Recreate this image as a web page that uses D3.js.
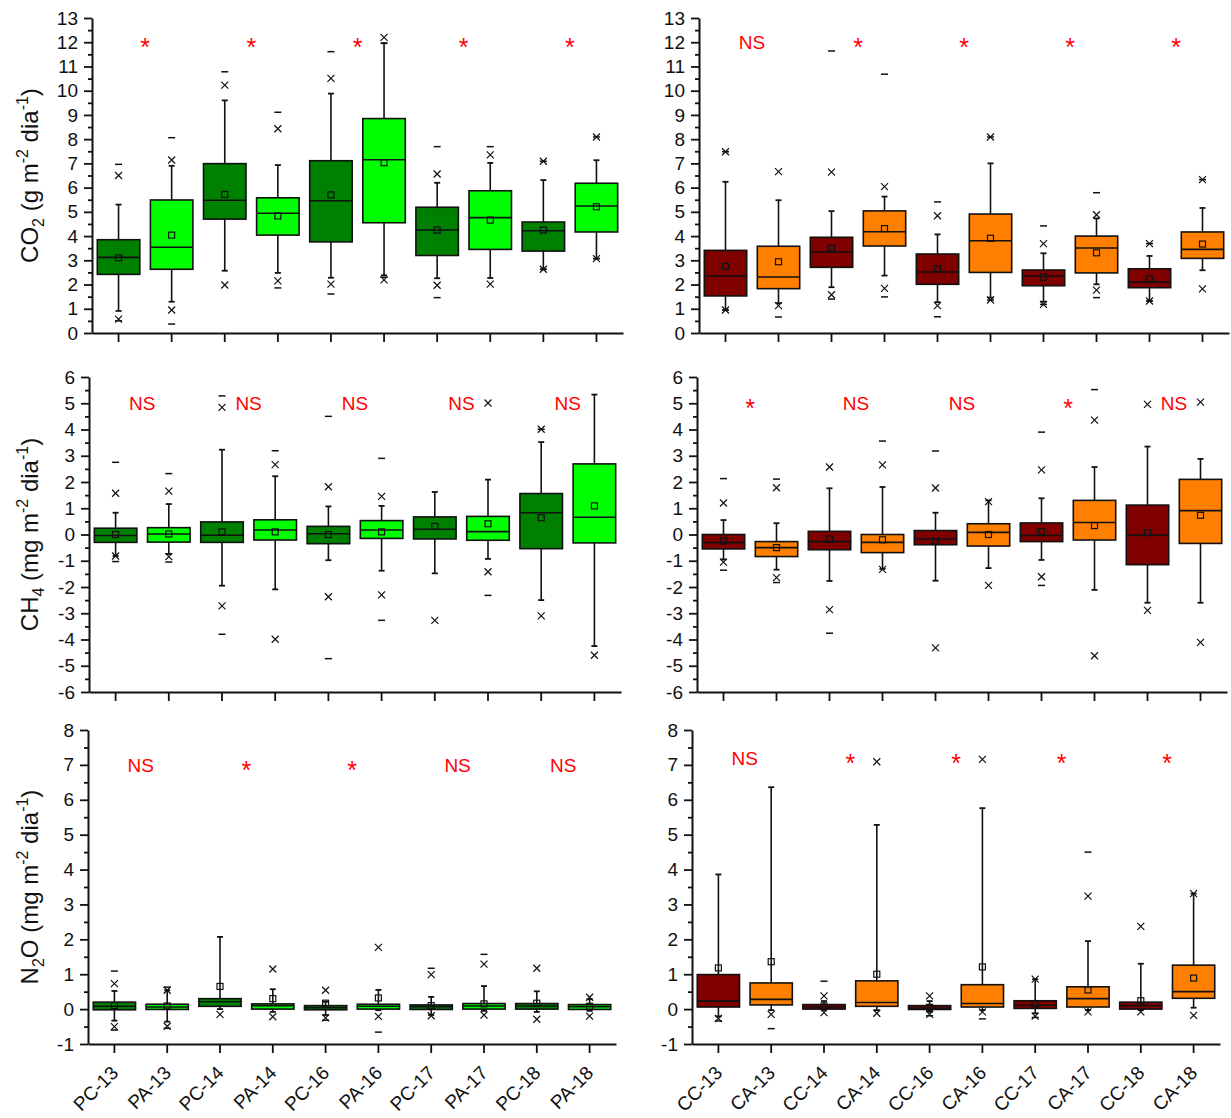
<!DOCTYPE html>
<html>
<head>
<meta charset="utf-8">
<script src="https://cdn.jsdelivr.net/npm/d3@7"></script>
<style>
  body { margin: 0; background: #fff; }
  text { font-family: "Liberation Sans", Arial, sans-serif; }
</style>
</head>
<body>
<svg id="chart" width="1231" height="1118"></svg>
<script>
const catsP = ["PC-13", "PA-13", "PC-14", "PA-14", "PC-16", "PA-16", "PC-17", "PA-17", "PC-18", "PA-18"];
const catsC = ["CC-13", "CA-13", "CC-14", "CA-14", "CC-16", "CA-16", "CC-17", "CA-17", "CC-18", "CA-18"];

// each row: [min, p1, whiskerLow, q1, median, q3, whiskerHigh, p99, max, mean]  (null = not drawn)
const co2P = [
  [0.5, 0.57, 0.91, 2.42, 3.12, 3.85, 5.3, 6.5, 6.96, 3.1],
  [0.37, 0.95, 1.29, 2.63, 3.54, 5.49, 6.9, 7.14, 8.06, 4.04],
  [null, 1.98, 2.57, 4.7, 5.48, 6.99, 9.6, 10.23, 10.78, 5.72],
  [1.86, 2.15, 2.48, 4.04, 4.94, 5.58, 6.93, 8.43, 9.11, 4.83],
  [1.61, 2.02, 2.28, 3.76, 5.46, 7.11, 9.88, 10.51, 11.61, 5.7],
  [2.3, 2.19, 2.38, 4.55, 7.15, 8.85, 11.96, 12.2, 11.96, 7.03],
  [1.46, 1.97, 2.26, 3.2, 4.25, 5.19, 6.2, 6.56, 7.69, 4.25],
  [null, 2.02, 2.27, 3.45, 4.76, 5.87, 7.02, 7.35, 7.69, 4.66],
  [2.63, 2.63, 2.63, 3.38, 4.22, 4.58, 6.31, 7.09, 7.09, 4.25],
  [3.07, 3.07, 3.07, 4.17, 5.24, 6.18, 7.13, 8.09, 8.09, 5.21]
];
const co2C = [
  [0.95, 0.95, 0.95, 1.53, 2.34, 3.41, 6.24, 7.48, 7.48, 2.75],
  [0.66, 1.13, 1.23, 1.83, 2.31, 3.58, 5.48, 6.66, null, 2.94],
  [1.4, 1.58, 1.89, 2.71, 3.34, 3.95, 5.03, 6.64, 11.64, 3.51],
  [1.49, 1.84, 2.37, 3.59, 4.18, 5.04, 5.63, 6.04, 10.68, 4.31],
  [0.67, 1.13, 1.27, 2.01, 2.52, 3.26, 4.07, 4.84, 5.41, 2.65],
  [1.36, 1.36, 1.46, 2.5, 3.81, 4.91, 7.0, 8.09, 8.09, 3.91],
  [1.18, 1.18, 1.29, 1.95, 2.34, 2.6, 3.29, 3.69, 4.42, 2.3],
  [1.46, 1.77, 2.01, 2.48, 3.51, 4.0, 4.73, 4.88, 5.79, 3.31],
  [1.32, 1.32, 1.32, 1.87, 2.1, 2.65, 3.18, 3.69, 3.69, 2.23],
  [null, 1.82, 2.59, 3.08, 3.45, 4.17, 5.16, 6.33, 6.33, 3.67]
];
const ch4P = [
  [-1.03, -0.82, -0.82, -0.3, -0.04, 0.24, 0.83, 1.57, 2.75, 0.0],
  [-1.05, -0.84, -0.74, -0.29, 0.02, 0.26, 1.16, 1.65, 2.32, 0.02],
  [-3.8, -2.72, -1.95, -0.3, -0.03, 0.48, 3.23, 4.84, 5.28, 0.1],
  [null, -3.99, -2.09, -0.21, 0.17, 0.56, 2.22, 2.66, 3.19, 0.1],
  [-4.73, -2.37, -0.98, -0.35, 0.03, 0.31, 1.07, 1.82, 4.5, 0.0],
  [-3.27, -2.3, -1.38, -0.15, 0.17, 0.53, 1.09, 1.45, 2.9, 0.1],
  [null, -3.27, -1.48, -0.17, 0.2, 0.67, 1.62, null, null, 0.31],
  [-2.32, -1.42, -0.93, -0.22, 0.11, 0.69, 2.09, 5.01, null, 0.41],
  [null, -3.1, -2.5, -0.54, 0.83, 1.56, 3.52, 4.01, 4.01, 0.64],
  [null, -4.6, -4.25, -0.32, 0.66, 2.69, 5.33, null, null, 1.09]
];
const ch4C = [
  [-1.36, -1.05, -0.95, -0.55, -0.31, 0.0, 0.55, 1.2, 2.13, -0.24],
  [-1.83, -1.64, -1.34, -0.84, -0.5, -0.27, 0.43, 1.78, 2.11, -0.5],
  [-3.76, -2.86, -1.77, -0.58, -0.27, 0.12, 1.76, 2.57, null, -0.17],
  [null, -1.33, -1.31, -0.69, -0.3, 0.0, 1.81, 2.65, 3.56, -0.2],
  [null, -4.32, -1.76, -0.39, -0.17, 0.15, 0.83, 1.77, 3.18, -0.25],
  [null, -1.94, -1.28, -0.44, 0.08, 0.41, 1.3, 1.25, null, 0.0],
  [-1.94, -1.61, -0.97, -0.27, -0.04, 0.44, 1.38, 2.46, 3.9, 0.11],
  [null, -4.62, -2.11, -0.21, 0.46, 1.3, 2.57, 4.36, 5.52, 0.34],
  [null, -2.89, -2.6, -1.15, -0.03, 1.12, 3.35, 4.96, null, 0.07],
  [null, -4.11, -2.6, -0.34, 0.91, 2.1, 2.88, 5.04, null, 0.73]
];
const n2oP = [
  [-0.6, -0.5, -0.33, -0.02, 0.08, 0.2, 0.52, 0.73, 1.09, 0.1],
  [-0.55, -0.49, -0.36, -0.01, 0.06, 0.14, 0.54, 0.54, 0.63, 0.09],
  [null, -0.15, 0.0, 0.08, 0.21, 0.3, 2.07, null, null, 0.65],
  [null, -0.22, -0.08, 0.0, 0.1, 0.15, 0.57, 1.15, null, 0.3],
  [-0.32, -0.25, -0.17, -0.02, 0.04, 0.1, 0.21, 0.54, null, 0.17],
  [-0.66, -0.21, -0.03, 0.0, 0.08, 0.14, 0.55, 1.77, null, 0.32],
  [null, -0.19, -0.17, -0.01, 0.07, 0.12, 0.35, 0.99, 1.17, 0.1],
  [null, -0.17, -0.05, 0.0, 0.09, 0.16, 0.66, 1.29, 1.57, 0.15],
  [null, -0.29, -0.08, 0.0, 0.09, 0.16, 0.51, 1.17, null, 0.17],
  [null, -0.2, -0.05, -0.01, 0.07, 0.13, 0.29, 0.34, null, 0.08]
];
const n2oC = [
  [-0.34, -0.27, -0.21, 0.06, 0.23, 0.99, 3.86, null, null, 1.18],
  [-0.56, -0.15, -0.03, 0.12, 0.28, 0.75, 6.36, null, null, 1.36],
  [null, -0.1, -0.03, 0.0, 0.06, 0.13, 0.23, 0.38, 0.8, 0.09],
  [null, -0.12, -0.03, 0.08, 0.19, 0.81, 5.28, 7.09, null, 1.0],
  [-0.19, -0.15, -0.08, -0.01, 0.03, 0.1, 0.23, 0.38, null, 0.05],
  [-0.28, -0.08, -0.03, 0.06, 0.16, 0.7, 5.76, 7.16, null, 1.21],
  [-0.24, -0.2, -0.12, 0.02, 0.11, 0.24, 0.86, 0.86, null, 0.15],
  [null, -0.08, -0.03, 0.06, 0.3, 0.64, 1.95, 3.24, 4.5, 0.55],
  [null, -0.08, -0.03, 0.0, 0.1, 0.2, 1.3, 2.37, null, 0.24],
  [null, -0.18, 0.04, 0.31, 0.5, 1.26, 3.31, 3.31, null, 0.89]
];

// significance between each pair of boxes
const sigCO2P = ["*", "*", "*", "*", "*"];
const sigCO2C = ["NS", "*", "*", "*", "*"];
const sigCH4P = ["NS", "NS", "NS", "NS", "NS"];
const sigCH4C = ["*", "NS", "NS", "*", "NS"];
const sigN2OP = ["NS", "*", "*", "NS", "NS"];
const sigN2OC = ["NS", "*", "*", "*", "*"];

const greens = ["#008000", "#00ff00"];
const reds = ["#800000", "#ff8000"];

const panels = [
  { cats: catsP, data: co2P, sig: sigCO2P, fill: greens, x0: 92, x1: 623, y0: 18, y1: 333, dom: [0, 13], sigAt: 12, title: ["CO", "2", " (g m", "-2", " dia", "-1", ")"] },
  { cats: catsC, data: co2C, sig: sigCO2C, fill: reds, x0: 699, x1: 1229, y0: 18, y1: 333, dom: [0, 13], sigAt: 12 },
  { cats: catsP, data: ch4P, sig: sigCH4P, fill: greens, x0: 89, x1: 621, y0: 377, y1: 692, dom: [-6, 6], sigAt: 5, title: ["CH", "4", " (mg m", "-2", " dia", "-1", ")"] },
  { cats: catsC, data: ch4C, sig: sigCH4C, fill: reds, x0: 697, x1: 1227, y0: 377, y1: 692, dom: [-6, 6], sigAt: 5 },
  { cats: catsP, data: n2oP, sig: sigN2OP, fill: greens, x0: 88, x1: 616, y0: 730, y1: 1044, dom: [-1, 8], sigAt: 7, title: ["N", "2", "O (mg m", "-2", " dia", "-1", ")"], xlabels: true },
  { cats: catsC, data: n2oC, sig: sigN2OC, fill: reds, x0: 692, x1: 1220, y0: 730, y1: 1044, dom: [-1, 8], sigAt: 7.2, xlabels: true }
];

const svg = d3.select("#chart");

function drawPanel(p) {
  const g = svg.append("g");
  const x = d3.scaleBand().domain(p.cats).range([p.x0, p.x1]).padding(0);
  const y = d3.scaleLinear().domain(p.dom).range([p.y1, p.y0]);
  const bw = x.bandwidth() * 0.8;

  /* -----------------------------
     Axes
  ----------------------------- */
  const majors = d3.range(p.dom[0], p.dom[1] + 1);
  const minors = d3.range(p.dom[0] + 0.5, p.dom[1], 1);

  g.append("g")
    .attr("transform", `translate(${p.x0},0)`)
    .call(d3.axisLeft(y).tickValues(minors).tickSize(4).tickSizeOuter(0).tickFormat(""))
    .call(a => a.select(".domain").remove());

  const ya = g.append("g")
    .attr("transform", `translate(${p.x0},0)`)
    .call(d3.axisLeft(y).tickValues(majors).tickSize(8).tickSizeOuter(0).tickPadding(6)
      .tickFormat(d => String(d)));
  ya.selectAll("text").attr("font-size", 19).attr("fill", "#111")
    .style("font-family", "'Liberation Sans', Arial, sans-serif");

  const xa = g.append("g")
    .attr("transform", `translate(0,${p.y1})`)
    .call(d3.axisBottom(x).tickSize(9).tickSizeOuter(0));
  xa.selectAll("text").remove();

  g.selectAll(".domain").attr("stroke", "#111").attr("stroke-width", 2);
  g.selectAll(".tick line").attr("stroke", "#111").attr("stroke-width", 1.8);

  if (p.xlabels) {
    g.selectAll(".xlab")
      .data(p.cats)
      .enter()
      .append("text")
      .attr("transform", d => `translate(${x(d) + x.bandwidth() / 2 + 5},${p.y1 + 30}) rotate(-45)`)
      .attr("text-anchor", "end")
      .attr("font-size", 19)
      .attr("fill", "#111")
      .text(d => d);
  }

  if (p.title) {
    const cy = (p.y0 + p.y1) / 2;
    const t = g.append("text")
      .attr("transform", `translate(38,${cy}) rotate(-90)`)
      .attr("text-anchor", "middle")
      .attr("font-size", 24)
      .attr("fill", "#111");
    const [a, sub, b, sup1, c, sup2, e] = p.title;
    t.append("tspan").text(a);
    t.append("tspan").attr("dy", 6).attr("font-size", 16).text(sub);
    t.append("tspan").attr("dy", -6).text(b);
    t.append("tspan").attr("dy", -10).attr("font-size", 16).text(sup1);
    t.append("tspan").attr("dy", 10).text(c);
    t.append("tspan").attr("dy", -10).attr("font-size", 16).text(sup2);
    t.append("tspan").attr("dy", 10).text(e);
  }

  /* -----------------------------
     Boxes
  ----------------------------- */
  const box = g.selectAll(".box")
    .data(p.data)
    .enter()
    .append("g")
    .attr("transform", (d, i) => `translate(${x(p.cats[i]) + x.bandwidth() / 2},0)`);

  box.append("line")
    .attr("y1", d => y(d[2])).attr("y2", d => y(d[6]))
    .attr("stroke", "#111").attr("stroke-width", 1.6);

  [2, 6].forEach(k => {
    box.append("line")
      .attr("x1", -3).attr("x2", 3)
      .attr("y1", d => y(d[k])).attr("y2", d => y(d[k]))
      .attr("stroke", "#111").attr("stroke-width", 1.8);
  });

  box.append("rect")
    .attr("x", -bw / 2)
    .attr("width", bw)
    .attr("y", d => y(d[5]))
    .attr("height", d => Math.max(1, y(d[3]) - y(d[5])))
    .attr("fill", (d, i) => p.fill[i % 2])
    .attr("stroke", "#111")
    .attr("stroke-width", 1.6);

  box.append("line")
    .attr("x1", -bw / 2).attr("x2", bw / 2)
    .attr("y1", d => y(d[4])).attr("y2", d => y(d[4]))
    .attr("stroke", "#111").attr("stroke-width", 1.6);

  box.append("rect")
    .attr("x", -3).attr("width", 6)
    .attr("y", d => y(d[9]) - 3).attr("height", 6)
    .attr("fill", "none").attr("stroke", "#111").attr("stroke-width", 1.2);

  [1, 7].forEach(k => {
    box.filter(d => d[k] !== null)
      .append("path")
      .attr("d", d => {
        const v = y(d[k]);
        return `M-3.5,${v - 3.5}L3.5,${v + 3.5}M-3.5,${v + 3.5}L3.5,${v - 3.5}`;
      })
      .attr("stroke", "#111").attr("stroke-width", 1.2).attr("fill", "none");
  });

  [0, 8].forEach(k => {
    box.filter(d => d[k] !== null)
      .append("line")
      .attr("x1", -3.5).attr("x2", 3.5)
      .attr("y1", d => y(d[k])).attr("y2", d => y(d[k]))
      .attr("stroke", "#111").attr("stroke-width", 1.5);
  });

  /* -----------------------------
     Significance labels
  ----------------------------- */
  g.selectAll(".sig")
    .data(p.sig)
    .enter()
    .append("text")
    .attr("x", (d, i) => x(p.cats[2 * i + 1]))
    .attr("y", y(p.sigAt))
    .attr("dy", d => d === "*" ? 14 : 7)
    .attr("text-anchor", "middle")
    .attr("font-size", d => d === "*" ? 25 : 19)
    .attr("fill", "#ff0000")
    .text(d => d);
}

panels.forEach(drawPanel);
</script>
</body>
</html>
